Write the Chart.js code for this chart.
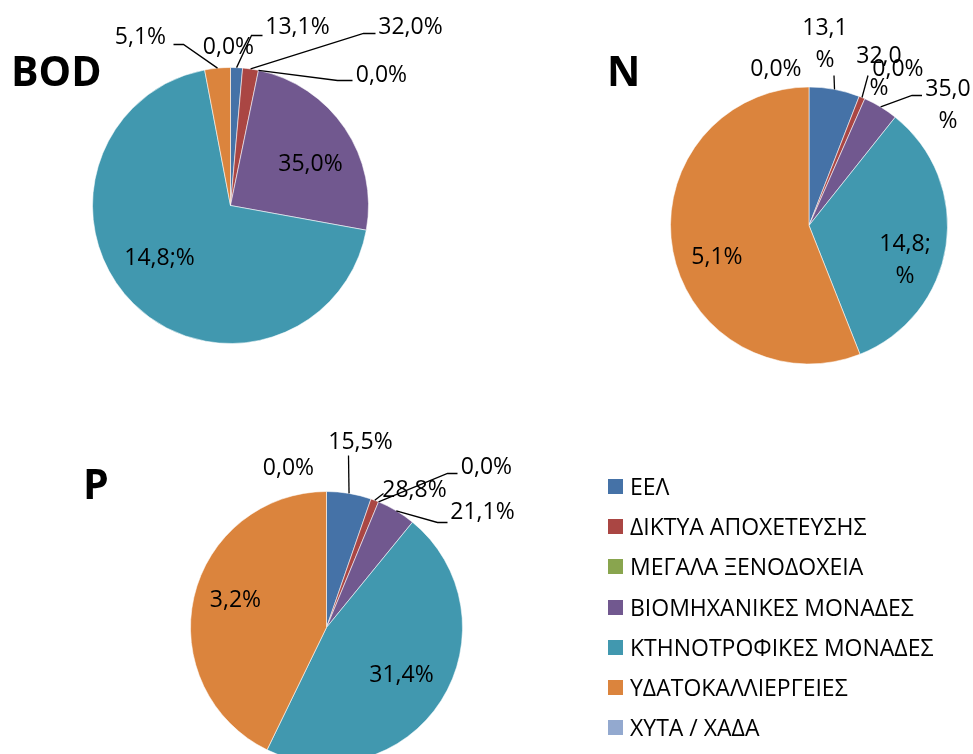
<!DOCTYPE html>
<html>
<head>
<meta charset="utf-8">
<script src="https://cdn.jsdelivr.net/npm/chart.js@4.4.0/dist/chart.umd.min.js"></script>
<style>
  html, body { margin: 0; padding: 0; background: #fff; overflow: hidden; }
  #page { position: relative; width: 973px; height: 754px; overflow: hidden; font-family: "Open Sans", sans-serif; color: #000; }
  #page canvas { position: absolute; left: 0; top: 0; }
  .title { position: absolute; font-weight: bold; font-size: 41px; line-height: 1; }
  .item { position: absolute; left: 608px; height: 15px; white-space: nowrap; }
  .item .box { position: absolute; left: 0; top: 0; width: 15px; height: 15px; }
  .item .txt { position: absolute; left: 22px; top: -8px; font-size: 23px; line-height: 30px; }
</style>
</head>
<body>
<div id="page">
  <canvas id="bodChart" width="973" height="800"></canvas>
  <canvas id="nChart" width="973" height="800"></canvas>
  <canvas id="pChart" width="973" height="800"></canvas>
  <div class="title" style="left:11px; top:50px;">BOD</div>
  <div class="title" style="left:607px; top:50px;">N</div>
  <div class="title" style="left:83px; top:463px;">P</div>
  <div id="legend"></div>
</div>
<script>
// categories and slice shares (angles), labels as printed
const categories = ['ΕΕΛ', 'ΔΙΚΤΥΑ ΑΠΟΧΕΤΕΥΣΗΣ', 'ΜΕΓΑΛΑ ΞΕΝΟΔΟΧΕΙΑ', 'ΒΙΟΜΗΧΑΝΙΚΕΣ ΜΟΝΑΔΕΣ',
                    'ΚΤΗΝΟΤΡΟΦΙΚΕΣ ΜΟΝΑΔΕΣ', 'ΥΔΑΤΟΚΑΛΛΙΕΡΓΕΙΕΣ', 'ΧΥΤΑ / ΧΑΔΑ'];
const bodValues = [1.4, 1.85, 0, 24.6, 69.1, 3.0, 0];
const nValues = [5.9, 0.7, 0, 4.1, 33.3, 56.0, 0];
const pValues = [5.3, 0.95, 0, 4.65, 46.3, 42.8, 0];
const bodLabels = ['13,1%', '32,0%', '0,0%', '35,0%', '14,8;%', '5,1%', '0,0%'];
const nLabels = ['13,1\n%', '32,0\n%', '0,0%', '35,0\n%', '14,8;\n%', '5,1%', '0,0%'];
const pLabels = ['15,5%', '28,8%', '0,0%', '21,1%', '31,4%', '3,2%', '0,0%'];

const colors = ['#4572A7', '#AA4643', '#89A54E', '#71588F', '#4198AF', '#DB843D', '#93A9CF'];

// label placement, offsets from the pie centre (px); leader starts on the slice edge
const bodPlace = [
  {at: [67, -178], leader: [[21, -170], [32, -170]]},
  {at: [180, -178], leader: [[133, -172], [145, -172]]},
  {at: [151, -130], leader: [[107, -125], [122, -125]]},
  {at: [80, -41]},
  {at: [-71, 53]},
  {at: [-90, -168], leader: [[-47, -161], [-57, -161]]},
  {at: [-2, -158]}
];
const nPlace = [
  {at: [16, -181], leader: [[25, -150]]},
  {at: [70, -153], leader: [[59, -150]]},
  {at: [89, -156]},
  {at: [139, -120], leader: [[103, -130], [113, -130]]},
  {at: [96, 35]},
  {at: [-92, 32]},
  {at: [-33, -156]}
];
const pPlace = [
  {at: [34, -185], leader: [[22, -172]]},
  {at: [88, -137], leader: [[57, -134]]},
  {at: [160, -160], leader: [[121, -154], [131, -154]]},
  {at: [156, -115], leader: [[111, -105], [121, -105]]},
  {at: [75, 48]},
  {at: [-91, -27]},
  {at: [-38, -159]}
];

const W = 973, H = 800;

const sliceLabels = {
  id: 'sliceLabels',
  afterDatasetsDraw(chart, args, opts) {
    const ctx = chart.ctx;
    const arcs = chart.getDatasetMeta(0).data;
    ctx.save();
    ctx.font = '23px "Open Sans"';
    ctx.fillStyle = '#000';
    ctx.strokeStyle = '#000';
    ctx.lineWidth = 1.3;
    ctx.textAlign = 'center';
    ctx.textBaseline = 'middle';
    arcs.forEach((arc, i) => {
      const p = opts.place[i];
      const {x, y, startAngle, endAngle, outerRadius} =
        arc.getProps(['x', 'y', 'startAngle', 'endAngle', 'outerRadius'], true);
      if (p.leader) {
        const mid = (startAngle + endAngle) / 2;
        ctx.beginPath();
        ctx.moveTo(x + Math.cos(mid) * outerRadius, y + Math.sin(mid) * outerRadius);
        p.leader.forEach(q => ctx.lineTo(x + q[0], y + q[1]));
        ctx.stroke();
      }
      const lines = opts.labels[i].split('\n');
      lines.forEach((t, k) => {
        ctx.fillText(t, x + p.at[0], y + p.at[1] + (k - (lines.length - 1) / 2) * 32);
      });
    });
    ctx.restore();
  }
};

function buildPie(id, values, labels, place, cx, cy, r) {
  const ctx = document.getElementById(id).getContext('2d');
  return new Chart(ctx, {
    type: 'pie',
    data: {
      labels: categories,
      datasets: [{
        data: values,
        backgroundColor: colors,
        borderColor: 'rgba(255,255,255,0.55)',
        borderWidth: 1,
        hoverOffset: 0,
        offset: 0
      }]
    },
    options: {
      responsive: false,
      animation: false,
      events: [],
      layout: {
        padding: {left: cx - r, top: cy - r, right: W - cx - r - 1, bottom: H - cy - r - 1}
      },
      plugins: {
        legend: {display: false},
        tooltip: {enabled: false},
        sliceLabels: {labels: labels, place: place}
      }
    },
    plugins: [sliceLabels]
  });
}

buildPie('bodChart', bodValues, bodLabels, bodPlace, 230, 205, 138);
buildPie('nChart', nValues, nLabels, nPlace, 808.5, 225, 138.5);
buildPie('pChart', pValues, pLabels, pPlace, 326, 627, 136);

// legend
const legend = document.getElementById('legend');
categories.forEach((name, i) => {
  const item = document.createElement('div');
  item.className = 'item';
  item.style.top = (479 + i * 40.2) + 'px';
  item.innerHTML = '<div class="box" style="background:' + colors[i] + '"></div><span class="txt">' + name + '</span>';
  legend.appendChild(item);
});
</script>
</body>
</html>
